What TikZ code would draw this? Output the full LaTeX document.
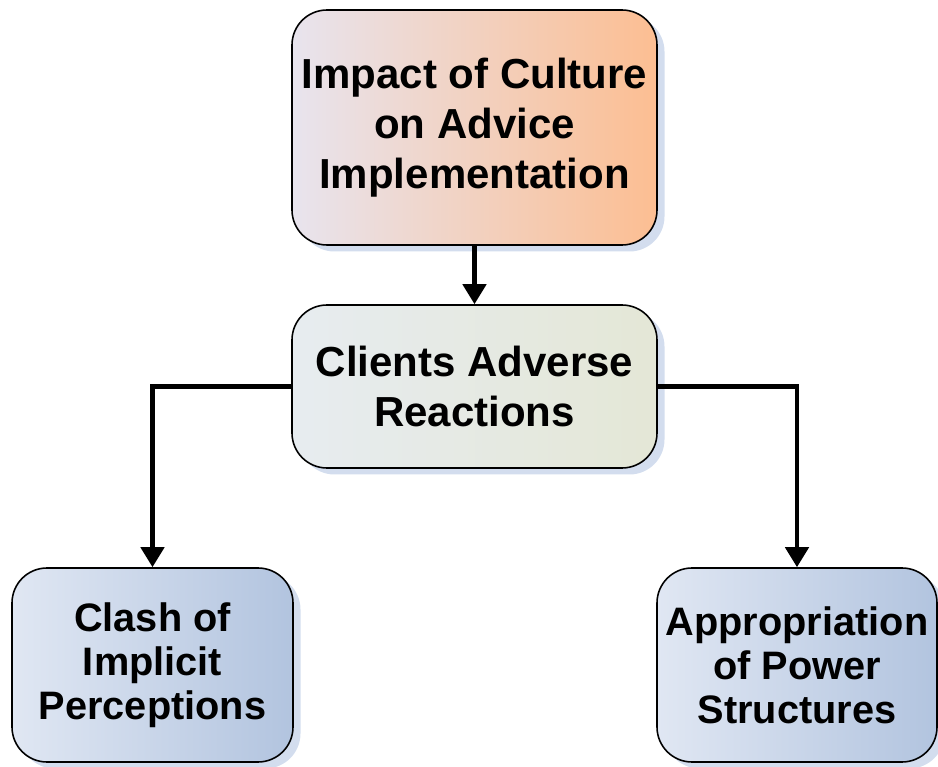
\documentclass[tikz,border=0pt]{standalone}
\usepackage{fontspec}
\setmainfont{Liberation Sans}
\usepackage{tikz}
\usetikzlibrary{arrows.meta,shadows}
\definecolor{orangeR}{HTML}{FCBE92}
\definecolor{orangeM}{HTML}{F5D0B8}
\definecolor{orangeL}{HTML}{E8E4EE}
\definecolor{greyR}{HTML}{E4E7D6}
\definecolor{greyL}{HTML}{E7ECF0}
\definecolor{blueR}{HTML}{B2C4DF}
\definecolor{blueL}{HTML}{E0E7F3}
\definecolor{shadowblue}{HTML}{D3DDEE}

\begin{document}
\begin{tikzpicture}[
    box/.style={draw=black,line width=0.9pt,rounded corners=0.7cm,align=center,
      font=\bfseries\fontsize{23.9}{28.3}\selectfont,inner sep=0pt,
      drop shadow={shadow xshift=0.15cm,shadow yshift=-0.13cm,fill=shadowblue,opacity=1}},
    smallbox/.style={box,font=\bfseries\fontsize{22.6}{25}\selectfont},
    link/.style={line width=2.6pt,-{Triangle[width=0.46cm,length=0.4cm]}}]
  \useasboundingbox (0,0) rectangle (18.76,-15.34);
  \node[box,minimum width=7.3cm,minimum height=4.7cm,left color=orangeL,middle color=orangeM,right color=orangeR]
    (impact) at (9.49,-2.55) {Impact of Culture\\on Advice\\Implementation};
  \node[box,minimum width=7.3cm,minimum height=3.26cm,left color=greyL,right color=greyR]
    (clients) at (9.49,-7.73) {Clients Adverse\\Reactions};
  \node[smallbox,minimum width=5.62cm,minimum height=3.88cm,left color=blueL,right color=blueR]
    (clash) at (3.05,-13.3) {Clash of\\Implicit\\Perceptions};
  \node[smallbox,minimum width=5.6cm,minimum height=3.88cm,left color=blueL,right color=blueR]
    (power) at (15.94,-13.3) {Appropriation\\of Power\\Structures};
  % connectors
  \draw[link] (impact) -- (clients);
  \draw[link] (clients.west) -| (clash.north);
  \draw[link] (clients.east) -| (power.north);
\end{tikzpicture}
\end{document}
